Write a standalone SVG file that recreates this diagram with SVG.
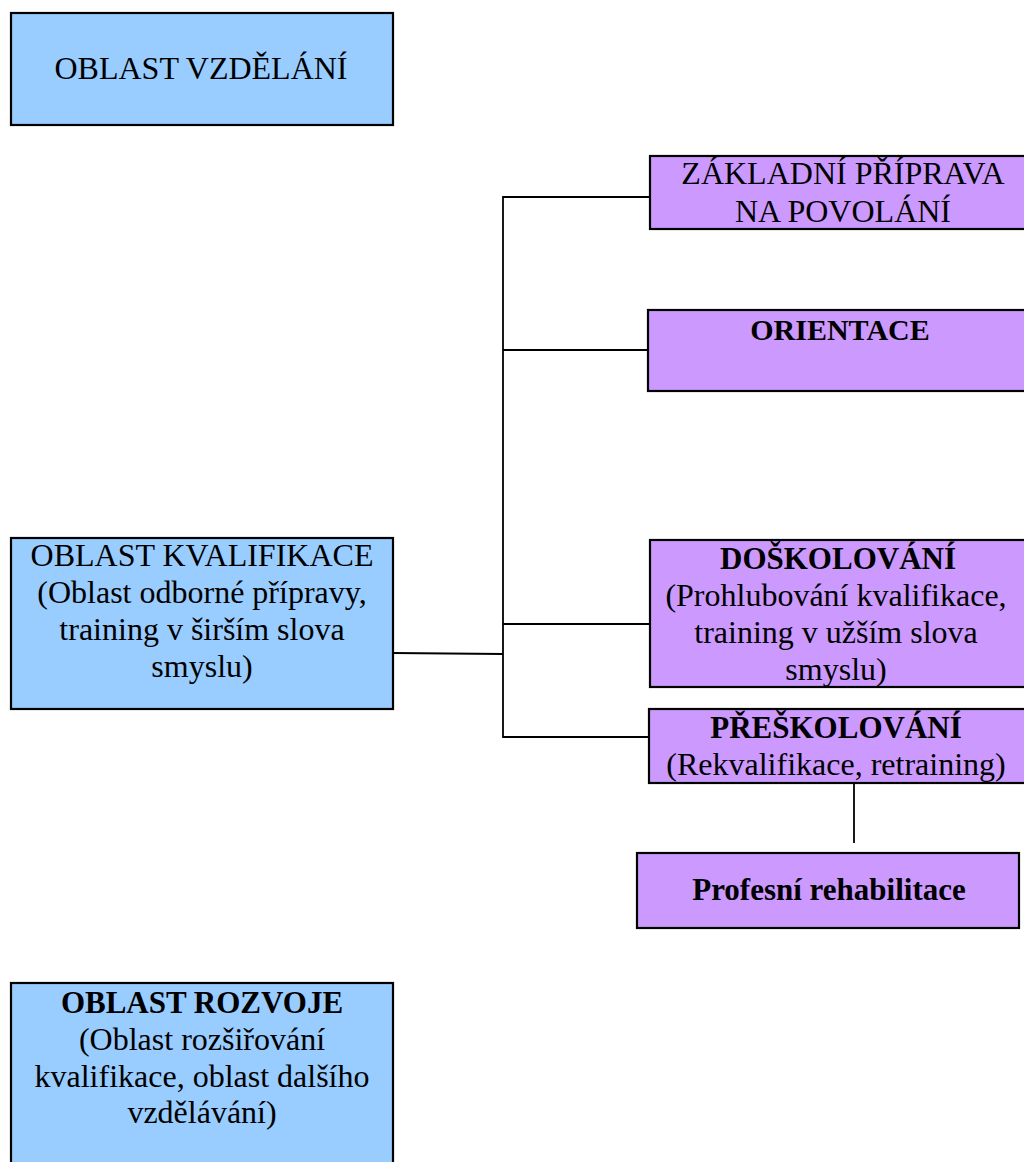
<svg xmlns="http://www.w3.org/2000/svg" width="1024" height="1162" viewBox="0 0 1024 1162">
<style>
.blue{fill:#99CCFF;stroke:#000;stroke-width:2.2}
.purple{fill:#CC99FF;stroke:#000;stroke-width:2.2}
text{font-family:"Liberation Serif","Times New Roman",serif;font-size:32px;fill:#000;text-anchor:middle}
.b{font-weight:bold;font-size:31px}
.conn{stroke:#000;stroke-width:1.8;fill:none}
</style>
<rect width="1024" height="1162" fill="#fff"/>
<g id="connectors">
<polyline class="conn" points="393,653 503,654"/>
<polyline class="conn" points="650,197 503,197 503,737 650,737"/>
<line class="conn" x1="503" y1="350" x2="650" y2="350"/>
<line class="conn" x1="503" y1="624" x2="650" y2="624"/>
<line class="conn" x1="854" y1="783" x2="854" y2="843"/>
</g>
<g id="oblast-vzdelani">
<rect class="blue" x="11" y="13" width="382" height="112"/>
<text x="201" y="79">OBLAST VZDĚLÁNÍ</text>
</g>
<g id="oblast-kvalifikace">
<rect class="blue" x="11" y="538" width="382" height="171"/>
<text x="202" y="566">OBLAST KVALIFIKACE</text>
<text x="202" y="603">(Oblast odborné přípravy,</text>
<text x="202" y="640">training v širším slova</text>
<text x="202" y="677">smyslu)</text>
</g>
<g id="oblast-rozvoje">
<rect class="blue" x="11" y="983" width="382" height="200"/>
<text class="b" x="202" y="1013">OBLAST ROZVOJE</text>
<text x="202" y="1050">(Oblast rozšiřování</text>
<text x="202" y="1087">kvalifikace, oblast dalšího</text>
<text x="202" y="1123">vzdělávání)</text>
</g>
<g id="zakladni-priprava">
<rect class="purple" x="650" y="156" width="400" height="73"/>
<text x="843" y="184">ZÁKLADNÍ PŘÍPRAVA</text>
<text x="843" y="222">NA POVOLÁNÍ</text>
</g>
<g id="orientace">
<rect class="purple" x="648" y="310" width="400" height="81"/>
<text class="b" x="840" y="340" style="font-size:30px">ORIENTACE</text>
</g>
<g id="doskolovani">
<rect class="purple" x="650" y="540" width="400" height="147"/>
<text class="b" x="838" y="569">DOŠKOLOVÁNÍ</text>
<text x="836" y="606">(Prohlubování kvalifikace,</text>
<text x="836" y="643">training v užším slova</text>
<text x="836" y="680">smyslu)</text>
</g>
<g id="preskolovani">
<rect class="purple" x="649" y="709" width="400" height="74"/>
<text class="b" x="836" y="738">PŘEŠKOLOVÁNÍ</text>
<text x="836" y="775">(Rekvalifikace, retraining)</text>
</g>
<g id="profesni-rehabilitace">
<rect class="purple" x="637" y="853" width="382" height="75"/>
<text class="b" x="829" y="900">Profesní rehabilitace</text>
</g>
</svg>
